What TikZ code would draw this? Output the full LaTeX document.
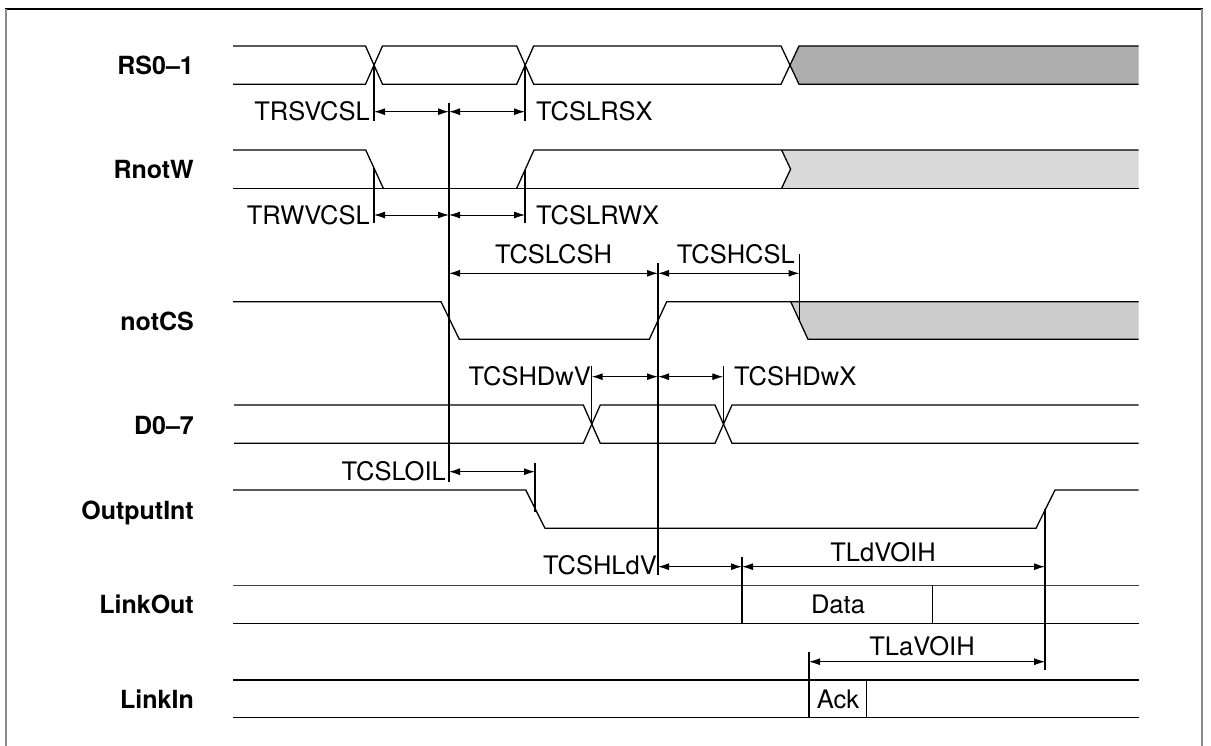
\documentclass[tikz,border=0pt]{standalone}
\usepackage{fontspec}
\setmainfont{TeX Gyre Heros}
\usetikzlibrary{arrows.meta}
\begin{document}
\begin{tikzpicture}[x=1pt,y=-1pt,
  sig/.style={line width=1.3pt, line join=miter},
  thinsig/.style={line width=0.8pt, black!75},
  tickline/.style={line width=1.2pt},
  dimarrow/.style={line width=1.1pt, {Latex[length=11pt,width=7pt]}-{Latex[length=11pt,width=7pt]}},
  dimthin/.style={line width=0.8pt, {Latex[length=11pt,width=7pt]}-{Latex[length=11pt,width=7pt]}},
  siglabel/.style={font=\fontsize{25}{30}\selectfont\bfseries, anchor=base east, inner sep=0pt},
  tlabel/.style={font=\fontsize{25.5}{30}\selectfont, inner sep=0pt},
  darkshade/.style={fill=black!32},
  lightshade/.style={fill=black!15},
  midshade/.style={fill=black!20}]
\useasboundingbox (0,0) rectangle (1211,746);
% frame
\draw[line width=2pt] (5,9) -- (1203,9);
\draw[black!45, line width=1.4pt] (5.8,9) -- (5.8,746);
\draw[black!45, line width=1.4pt] (1202,9) -- (1202,746);

% signal labels
\node[siglabel] (lRS) at (194,75) {RS0--1};
\node[siglabel] (lRW) at (194,179) {RnotW};
\node[siglabel] (lCS) at (194,330.5) {notCS};
\node[siglabel] (lD) at (194,434) {D0--7};
\node[siglabel] (lOI) at (194,519) {OutputInt};
\node[siglabel] (lLO) at (194,613.5) {LinkOut};
\node[siglabel] (lLI) at (194,708) {LinkIn};

% ---------- RS0-1
\path[darkshade] (790,65.15) -- (799,46) -- (1138.5,46) -- (1138.5,84.3) -- (799,84.3) -- cycle;
\draw[sig] (233,46) -- (365.5,46) -- (382.5,84.3) -- (516.7,84.3) -- (533.7,46) -- (781,46) -- (799,84.3) -- (1138.5,84.3);
\draw[sig] (233,84.3) -- (365.5,84.3) -- (382.5,46) -- (516.7,46) -- (533.7,84.3) -- (781,84.3) -- (799,46) -- (1138.5,46);

% ---------- RnotW
\path[lightshade] (781.6,150) -- (1138.5,150) -- (1138.5,188.3) -- (781.6,188.3) -- (790.6,169.15) -- cycle;
\draw[sig] (233,188.3) -- (1138.5,188.3);
\draw[sig] (233,150) -- (365.7,150) -- (383.3,188.3);
\draw[sig] (516.7,188.3) -- (534,150) -- (1138.5,150);
\draw[sig] (781.6,150) -- (790.6,169.15) -- (781.6,188.3);

% ---------- notCS
\path[midshade] (790.7,301.7) -- (1138.5,301.7) -- (1138.5,339.3) -- (808,339.3) -- cycle;
\draw[sig] (233,301.7) -- (441,301.7) -- (459.3,339.3) -- (649.3,339.3) -- (666.7,301.7) -- (1138.5,301.7);
\draw[sig] (790.7,301.7) -- (808,339.3) -- (1138.5,339.3);

% ---------- D0-7
\draw[sig] (234,405) -- (583.3,405) -- (600.3,443.3) -- (715,443.3) -- (732,405) -- (1138.5,405);
\draw[sig] (234,443.3) -- (583.3,443.3) -- (600.3,405) -- (715,405) -- (732,443.3) -- (1138.5,443.3);

% ---------- OutputInt
\draw[sig] (233,490) -- (525.8,490) -- (545,528.3) -- (1036,528.3) -- (1055,490) -- (1138.5,490);

% ---------- LinkOut
\draw[thinsig] (233,585.3) -- (1138.5,585.3);
\draw[sig] (233,623.3) -- (1138.5,623.3);
\node[tlabel, anchor=base] (data) at (838,613.3) {Data};

% ---------- LinkIn
\draw[sig] (233,680) -- (1138.5,680);
\draw[sig] (233,717.3) -- (1138.5,717.3);
\node[tlabel, anchor=base] (ack) at (838,708.3) {Ack};

% ---------- named points for ticks and dimensions
\coordinate (v374a) at (374,64.5);   \coordinate (v374b) at (374,121);
\coordinate (v374c) at (374,168);    \coordinate (v374d) at (374,223);
\coordinate (v525a) at (525,64.5);   \coordinate (v525b) at (525,121);
\coordinate (v525c) at (525,170);    \coordinate (v525d) at (525,223);
\coordinate (v449a) at (449,102.7);  \coordinate (v449b) at (449,481.7);
\coordinate (v658a) at (658,262.7);  \coordinate (v658b) at (658,575);
\coordinate (v799a) at (799.5,254);  \coordinate (v799b) at (799.5,320);
\coordinate (v592a) at (591.7,366);  \coordinate (v592b) at (591.7,424);
\coordinate (v723a) at (723.3,366);  \coordinate (v723b) at (723.3,424);
\coordinate (v535a) at (535,462.7);  \coordinate (v535b) at (535,511.7);
\coordinate (v742a) at (742,556.7);  \coordinate (v742b) at (742,623.3);
\coordinate (v1045a) at (1045,509);  \coordinate (v1045b) at (1045,670);
\coordinate (v809a) at (809,651.7);  \coordinate (v809b) at (809,717.3);
\coordinate (v932a) at (932.3,585.3); \coordinate (v932b) at (932.3,623.3);
\coordinate (v867a) at (866.7,680);  \coordinate (v867b) at (866.7,717.3);

\draw[tickline] (v374a) -- (v374b);
\draw[tickline] (v374c) -- (v374d);
\draw[tickline] (v525a) -- (v525b);
\draw[tickline] (v525c) -- (v525d);
\draw[tickline] (v449a) -- (v449b);
\draw[tickline] (v658a) -- (v658b);
\draw[tickline] (v799a) -- (v799b);
\draw[tickline] (v592a) -- (v592b);
\draw[tickline] (v723a) -- (v723b);
\draw[tickline] (v535a) -- (v535b);
\draw[tickline] (v742a) -- (v742b);
\draw[tickline] (v1045a) -- (v1045b);
\draw[tickline] (v809a) -- (v809b);
\draw[tickline] (v932a) -- (v932b);
\draw[tickline] (v867a) -- (v867b);

% dimension rows
\coordinate (r1a) at (374,111.7); \coordinate (r1b) at (449,111.7); \coordinate (r1c) at (525,111.7);
\draw[dimarrow] (r1a) -- (r1b);
\draw[dimarrow] (r1b) -- (r1c);
\node[tlabel, anchor=base east] (tRSV) at (370,121) {TRSVCSL};
\node[tlabel, anchor=base west] (tRSX) at (536,121) {TCSLRSX};

\coordinate (r2a) at (374,215); \coordinate (r2b) at (449,215); \coordinate (r2c) at (525,215);
\draw[dimthin] (r2a) -- (r2b);
\draw[dimthin] (r2b) -- (r2c);
\node[tlabel, anchor=base east] (tRWV) at (370,225) {TRWVCSL};
\node[tlabel, anchor=base west] (tRWX) at (536,225) {TCSLRWX};

\coordinate (r3a) at (449,273.3); \coordinate (r3b) at (658,273.3); \coordinate (r3c) at (799.5,273.3);
\draw[dimarrow] (r3a) -- (r3b);
\draw[dimarrow] (r3b) -- (r3c);
\node[tlabel, anchor=base] (tCSLCSH) at (553.5,263.3) {TCSLCSH};
\node[tlabel, anchor=base east] (tCSHCSL) at (795,263.3) {TCSHCSL};

\coordinate (r4a) at (591.7,376.7); \coordinate (r4b) at (658,376.7); \coordinate (r4c) at (723.3,376.7);
\draw[dimarrow] (r4a) -- (r4b);
\draw[dimarrow] (r4b) -- (r4c);
\node[tlabel, anchor=base east] (tDwV) at (591,385.7) {TCSHDwV};
\node[tlabel, anchor=base west] (tDwX) at (734,385.7) {TCSHDwX};

\coordinate (r5a) at (449,471.7); \coordinate (r5b) at (535,471.7);
\draw[dimarrow] (r5a) -- (r5b);
\node[tlabel, anchor=base east] (tOIL) at (446,480) {TCSLOIL};

\coordinate (r6a) at (658,566.7); \coordinate (r6b) at (742,566.7); \coordinate (r6c) at (1045,566.7);
\draw[dimarrow] (r6a) -- (r6b);
\draw[dimarrow] (r6b) -- (r6c);
\node[tlabel, anchor=base east] (tLdV) at (657,574) {TCSHLdV};
\node[tlabel, anchor=base] (tLdVOIH) at (883,561) {TLdVOIH};

\coordinate (r7a) at (809,661.7); \coordinate (r7b) at (1045,661.7);
\draw[dimthin] (r7a) -- (r7b);
\node[tlabel, anchor=base] (tLaVOIH) at (922,655.7) {TLaVOIH};
\end{tikzpicture}
\end{document}
